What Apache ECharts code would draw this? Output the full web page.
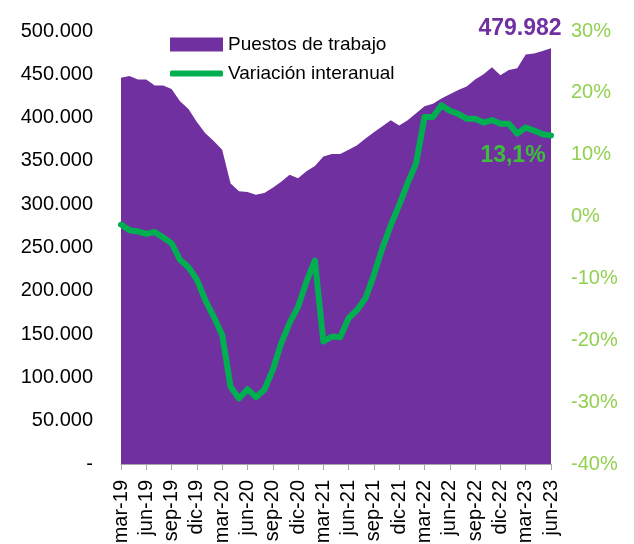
<!DOCTYPE html>
<html lang="es">
<head>
<meta charset="UTF-8">
<title>Puestos de trabajo</title>
<script src="https://cdn.jsdelivr.net/npm/echarts@6/dist/echarts.min.js"></script>
<style>
  body { margin: 0; padding: 0; background: #fff; }
  #chart { width: 634px; height: 544px; }
</style>
</head>
<body>
<div id="chart"></div>
<script>
// meses mar-19 .. jun-23
const meses = [
  'mar-19','abr-19','may-19','jun-19','jul-19','ago-19','sep-19','oct-19','nov-19','dic-19',
  'ene-20','feb-20','mar-20','abr-20','may-20','jun-20','jul-20','ago-20','sep-20','oct-20','nov-20','dic-20',
  'ene-21','feb-21','mar-21','abr-21','may-21','jun-21','jul-21','ago-21','sep-21','oct-21','nov-21','dic-21',
  'ene-22','feb-22','mar-22','abr-22','may-22','jun-22','jul-22','ago-22','sep-22','oct-22','nov-22','dic-22',
  'ene-23','feb-23','mar-23','abr-23','may-23','jun-23'
];

// puestos de trabajo (eje izquierdo)
const puestos = [
  446000, 448000, 444000, 444000, 437000, 437000, 433000, 419000, 410000, 395000,
  382000, 373000, 363000, 324000, 315000, 314000, 311000, 313000, 319000, 326000, 334000, 330000,
  338000, 344000, 355000, 358000, 358000, 363000, 368000, 376000, 383000, 390000, 397000, 391000,
  397000, 405000, 413000, 416000, 422000, 427000, 432000, 436000, 444000, 450000, 458000, 449000,
  455000, 457000, 473000, 474000, 477000, 479982
];

// variación interanual, % (eje derecho)
const variacion = [
  -1.3, -2.2, -2.4, -2.8, -2.5, -3.4, -4.3, -7.0, -8.2, -10.2,
  -13.5, -16.2, -19.1, -27.5, -29.4, -27.9, -29.2, -28.0, -24.8, -20.5, -17.2, -14.6,
  -10.5, -7.1, -20.2, -19.4, -19.5, -16.4, -15.1, -13.2, -9.4, -5.1, -1.4, 1.9,
  5.4, 8.6, 16.1, 16.1, 18.0, 17.1, 16.6, 15.8, 15.8, 15.2, 15.6, 15.0,
  15.0, 13.4, 14.4, 13.9, 13.3, 13.1
];

const FONT = 'Liberation Sans';
const last = meses.length - 1;

function miles(v) {
  if (v === 0) return '-';
  return String(Math.round(v)).replace(/\B(?=(\d{3})+(?!\d))/g, '.');
}

const chart = echarts.init(document.getElementById('chart'));

chart.setOption({
  animation: false,
  textStyle: { fontFamily: FONT },
  grid: { left: 121, right: 83, top: 31, bottom: 80, outerBoundsMode: 'none' },
  legend: [
    {
      left: 165, top: 30, itemWidth: 53, itemHeight: 14, icon: 'rect',
      data: ['Puestos de trabajo'],
      textStyle: { fontSize: 19, color: '#000', fontFamily: FONT }
    },
    {
      left: 165, top: 59, itemWidth: 53, itemHeight: 6, icon: 'roundRect',
      data: ['Variación interanual'],
      textStyle: { fontSize: 19, color: '#000', fontFamily: FONT }
    }
  ],
  xAxis: {
    type: 'category',
    data: meses,
    boundaryGap: false,
    axisLine: { lineStyle: { color: '#a6a6a6', width: 1 } },
    axisTick: { interval: 2, length: 6, lineStyle: { color: '#a6a6a6' } },
    axisLabel: { interval: 2, rotate: 90, margin: 16, fontSize: 20, color: '#000', fontFamily: FONT }
  },
  yAxis: [
    {
      type: 'value', min: 0, max: 500000, interval: 50000,
      splitLine: { show: false },
      axisLine: { show: false }, axisTick: { show: false },
      axisLabel: { margin: 28, fontSize: 20, color: '#000', fontFamily: FONT, formatter: miles }
    },
    {
      type: 'value', min: -40, max: 30, interval: 10,
      splitLine: { show: false },
      axisLine: { show: false }, axisTick: { show: false },
      axisLabel: { margin: 20, fontSize: 20, color: '#92d050', fontFamily: FONT, formatter: '{value}%' }
    }
  ],
  series: [
    {
      name: 'Puestos de trabajo',
      type: 'line',
      yAxisIndex: 0,
      color: '#7030a0',
      itemStyle: { color: '#7030a0' },
      symbol: 'circle', symbolSize: 0, showSymbol: true,
      lineStyle: { width: 0 },
      areaStyle: { color: '#7030a0', opacity: 1 },
      z: 1,
      data: puestos.map((v, i) => i === last ? {
        value: v,
        label: {
          show: true, position: 'top', offset: [-31, -3],
          formatter: p => miles(p.value),
          fontSize: 23, fontWeight: 'bold', color: '#7030a0', fontFamily: FONT
        }
      } : v)
    },
    {
      name: 'Variación interanual',
      type: 'line',
      yAxisIndex: 1,
      color: '#00b050',
      itemStyle: { color: '#00b050' },
      symbol: 'circle', symbolSize: 0, showSymbol: true,
      lineStyle: { width: 6, color: '#00b050', cap: 'round', join: 'round' },
      z: 3,
      data: variacion.map((v, i) => i === last ? {
        value: v,
        label: {
          show: true, position: 'bottom', offset: [-38, 4],
          formatter: p => p.value.toFixed(1).replace('.', ',') + '%',
          fontSize: 23, fontWeight: 'bold', color: '#3cbe3c', fontFamily: FONT
        }
      } : v)
    }
  ]
});
</script>
</body>
</html>
